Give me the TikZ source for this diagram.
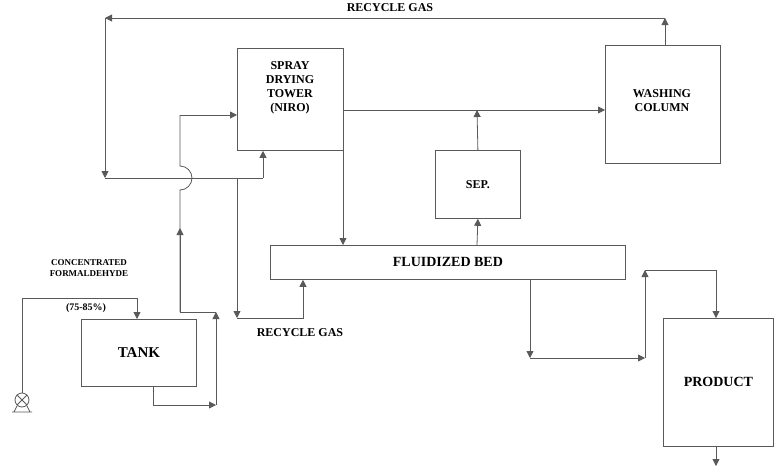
\documentclass[tikz,border=0pt]{standalone}
\usepackage{fontspec}
\setmainfont{Liberation Serif}
\usetikzlibrary{arrows.meta}
\begin{document}
\begin{tikzpicture}[x=1pt,y=-1pt,
 box/.style={draw,thick,gray!70!black,inner sep=0,text=black,font=\bfseries\fontsize{12}{13}\selectfont,align=center},
 ln/.style={thick,gray!70!black,-{Triangle[length=7pt,width=7pt]}},
 pl/.style={thick,gray!70!black},
 lab/.style={font=\bfseries\fontsize{12}{13}\selectfont}]
\useasboundingbox (0,0) rectangle (777,474);
\node[box,minimum width=106,minimum height=102,anchor=north west] (tower) at (237,48) {};
\node[font=\bfseries\fontsize{12}{14}\selectfont,align=center] (towert) at (290,88) {SPRAY\\DRYING\\TOWER\\(NIRO)};
\node[box,minimum width=115,minimum height=118,anchor=north west] (wash) at (605,45) {};
\node[font=\bfseries\fontsize{12}{14}\selectfont,align=center] (washt) at (662,101) {WASHING\\COLUMN};
\node[box,minimum width=85,minimum height=68,anchor=north west] (sep) at (435,150) {SEP.};
\node[box,minimum width=355,minimum height=34,anchor=north west,font=\bfseries\fontsize{14}{15}\selectfont] (fb) at (270,245) {FLUIDIZED BED};
\node[box,minimum width=115,minimum height=67,anchor=north west,font=\bfseries\fontsize{15}{16}\selectfont] (tank) at (81,319) {TANK};
\node[box,minimum width=110,minimum height=128,anchor=north west,font=\bfseries\fontsize{14}{15}\selectfont] (prod) at (663,318) {PRODUCT};
\node[draw,thick,gray!70!black,circle,minimum size=14,inner sep=0] (pump) at (22,400) {};
\draw[pl] (pump.north west)--(pump.south east) (pump.north east)--(pump.south west);
\draw[pl] (12,412)--(32,412) (17,406)--(14,412) (27,406)--(30,412);
\node[font=\bfseries\fontsize{9}{11}\selectfont,align=center] (conc) at (89,268) {CONCENTRATED\\FORMALDEHYDE};
\node[font=\bfseries\fontsize{10}{11}\selectfont] (pct) at (86,308) {(75-85\%)};
\node[lab] (rg1) at (390,8) {RECYCLE GAS};
\node[lab] (rg2) at (300,333) {RECYCLE GAS};
\coordinate (a1) at (665,18); \coordinate (a2) at (105,18);
\draw[ln] (wash.north -| a1) -- (a1);
\draw[ln] (a1) -- (a2);
\draw[ln] (a2) -- (105,178);
\draw[pl] (105,178) -- (263,178);
\draw[ln] (263,178) -- (tower.south -| 263,0);
\draw[pl] (180,312) -- (180,190) arc (90:-90:12) -- (180,115);
\draw[ln] (180,312) -- (180,228);
\draw[ln] (180,115) -- (tower.west |- 180,115);
\draw[pl] (180,312) -- (216,312);
\draw[ln] (216,405) -- (216,312);
\draw[ln] (tank.south -| 153,0) -- (153,405) -- (216,405);
\draw[ln] (pump.north) -- (22,298) -- (137,298) -- (tank.north -| 137,0);
\draw[ln] (237,178) -- (237,318);
\draw[ln] (237,318) -- (303,318) -- (fb.south -| 303,0);
\draw[ln] (tower.east |- 343,110) -- (wash.west |- 343,110);
\draw[ln] (tower.south -| 343,0) -- (fb.north -| 343,0);
\draw[ln] (fb.north -| 477,0) -- (sep.south);
\draw[ln] (sep.north) -- (477,110);
\draw[ln] (fb.south -| 530,0) -- (530,358);
\draw[ln] (530,358) -- (645,358);
\draw[ln] (645,358) -- (645,270);
\draw[ln] (645,270) -- (716,270) -- (prod.north -| 716,0);
\draw[ln] (prod.south -| 716,0) -- (716,466);
\end{tikzpicture}
\end{document}
